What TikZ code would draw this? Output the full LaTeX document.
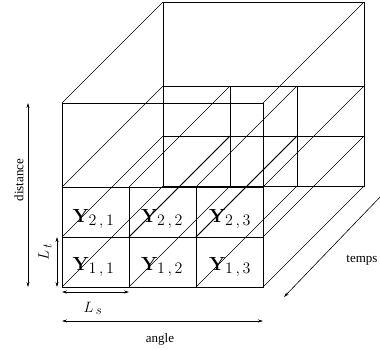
\RequirePackage{fix-cm}
\documentclass[tikz,border=0pt]{standalone}
\usepackage[no-math]{fontspec}
\setmainfont{Liberation Serif}
\usetikzlibrary{arrows.meta}
\DeclareMathSizes{19}{19}{16}{12}
\DeclareMathSizes{15}{15}{13}{10}
\begin{document}
\begin{tikzpicture}[x=1pt,y=-1pt,
  thinl/.style={line width=0.6pt},
  medl/.style={line width=0.8pt},
  boldl/.style={line width=0.95pt},
  tip/.tip={Stealth[length=5pt,width=3pt]},
  dimarrow/.style={line width=0.6pt,tip-tip},
  onearrow/.style={line width=0.6pt,-tip},
  lab/.style={font=\fontsize{13}{15}\selectfont, inner sep=0pt},
  cell/.style={font=\fontsize{19}{21}\selectfont, inner sep=0pt, anchor=base},
  lenlab/.style={font=\fontsize{15}{17}\selectfont, inner sep=0pt}]
\useasboundingbox (0,0) rectangle (380,349);
% grid points of the front face and their back counterparts
\foreach \i/\x in {0/62,1/129,2/196,3/263}{
  \foreach \j/\y in {0/287,1/237,2/187}{
    \coordinate (f\i\j) at (\x,\y);
    \coordinate (b\i\j) at (\x+101,\y-101);
  }
}
\coordinate (ftl) at (62,103);  \coordinate (ftr) at (263,103);
\coordinate (btl) at (163,2);   \coordinate (btr) at (364,2);
% back face
\draw[thinl] (b00) -- (btl) -- (btr) -- (b30) -- cycle;
\draw[thinl] (b01) -- (b31);
\draw[thinl] (b02) -- (b32);
\draw[thinl] (b12) -- (b10);
\draw[thinl] (b22) -- (b20);
% depth edges
\draw[thinl] (ftl) -- (btl);
\draw[thinl] (ftr) -- (btr);
\foreach \i in {0,1,2,3}{
  \foreach \j in {0,1,2}{
    \draw[thinl] (f\i\j) -- (b\i\j);
  }
}
\draw[boldl] (f11) -- (b11);
\draw[boldl] (f21) -- (b21);
% front face
\draw[thinl] (f02) -- (ftl) -- (ftr) -- (f32);
\draw[medl] (f00) -- (f30) -- (f32) -- (f02) -- cycle;
\draw[medl] (f01) -- (f31);
\draw[boldl] (f10) -- (f12);
\draw[boldl] (f20) -- (f22);
% cell labels
\node[cell] (y21) at (93.5,222) {$\mathbf{Y}_{2\,,\,1}$};
\node[cell] (y22) at (162,222) {$\mathbf{Y}_{2\,,\,2}$};
\node[cell] (y23) at (230,222) {$\mathbf{Y}_{2\,,\,3}$};
\node[cell] (y11) at (93.5,270) {$\mathbf{Y}_{1\,,\,1}$};
\node[cell] (y12) at (162,270) {$\mathbf{Y}_{1\,,\,2}$};
\node[cell] (y13) at (230,270) {$\mathbf{Y}_{1\,,\,3}$};
% dimension arrows
\coordinate (dA) at (28,103);  \coordinate (dB) at (28,287);
\draw[dimarrow] (dA) -- (dB);
\node[lab, rotate=90] (dist) at (19,180) {distance};
\coordinate (ltA) at (57,237); \coordinate (ltB) at (57,287);
\draw[dimarrow] (ltA) -- (ltB);
\node[lenlab, rotate=90] (lt) at (45,252) {$L_{\,t}$};
\coordinate (lsA) at (62,292); \coordinate (lsB) at (129,292);
\draw[dimarrow] (lsA) -- (lsB);
\node[lenlab] (ls) at (93,308) {$L_{\,s}$};
\coordinate (anA) at (62,321); \coordinate (anB) at (263,321);
\draw[dimarrow] (anA) -- (anB);
\node[lab] (ang) at (160,339) {angle};
\coordinate (tA) at (382,195); \coordinate (tB) at (284,297);
\draw[onearrow] (tA) -- (tB);
\node[lab] (tmp) at (362,260) {temps};
\end{tikzpicture}
\end{document}
